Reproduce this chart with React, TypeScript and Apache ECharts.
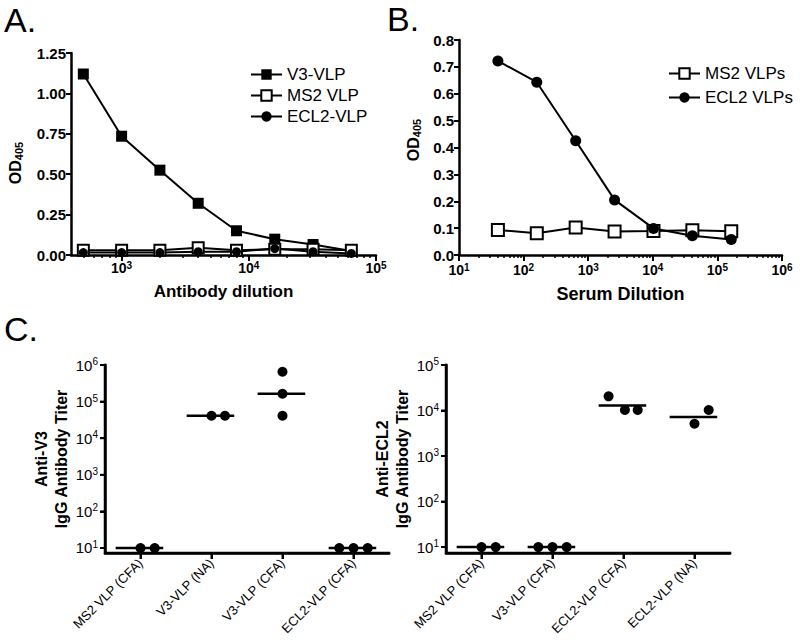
import React, { useEffect, useRef } from 'react';
import * as echarts from 'echarts';

// ---------- Panel A data ----------
const dilutionsA = [500, 1000, 2000, 4000, 8000, 16000, 32000, 64000];
const v3VlpA = [1.12, 0.735, 0.525, 0.32, 0.15, 0.098, 0.065, 0.025];
const ms2VlpA = [0.03, 0.03, 0.03, 0.045, 0.03, 0.035, 0.035, 0.03];
const ecl2VlpA = [0.015, 0.015, 0.015, 0.02, 0.02, 0.04, 0.02, 0.01];
const ticksA = [1e3, 1e4, 1e5];

// ---------- Panel B data ----------
const dilutionsB = [40, 160, 640, 2560, 10240, 40960, 163840];
const ms2VlpsB = [0.093, 0.081, 0.102, 0.087, 0.089, 0.092, 0.088];
const ecl2VlpsB = [0.722, 0.643, 0.425, 0.205, 0.099, 0.072, 0.058];
const ticksB = [1e1, 1e2, 1e3, 1e4, 1e5, 1e6];

// ---------- Panel C data ----------
const antiV3Groups = ['MS2 VLP (CFA)', 'V3-VLP (NA)', 'V3-VLP (CFA)', 'ECL2-VLP (CFA)'];
const antiV3Titers = [[10, 10], [40960, 40960], [655360, 163840, 40960], [10, 10, 10]];
const antiV3GeoMeans = [10, 40960, 163840, 10];
const ticksCLeft = [1e1, 1e2, 1e3, 1e4, 1e5, 1e6];

const antiEcl2Groups = ['MS2 VLP (CFA)', 'V3-VLP (CFA)', 'ECL2-VLP (CFA)', 'ECL2-VLP (NA)'];
const antiEcl2Titers = [[10, 10], [10, 10, 10], [20480, 10240, 10240], [5120, 10240]];
const antiEcl2GeoMeans = [10, 10, 12902, 7241];
const ticksCRight = [1e1, 1e2, 1e3, 1e4, 1e5];

// ---------- layout (horizontal spread of dots inside a column) ----------
const SPREAD_LEFT = [[0, 0.2], [0, 0.19], [0, 0, 0], [-0.2, 0, 0.2]];
const SPREAD_RIGHT = [[0, 0.2], [-0.2, 0, 0.2], [-0.21, 0.02, 0.2], [0, 0.2]];

const FONT = 'Liberation Sans, Arial, Helvetica, sans-serif';
const BLACK = '#000';

function minorTicks(lo: number, hi: number) {
  const out: number[] = [];
  for (let e = Math.floor(Math.log10(lo)); e < Math.ceil(Math.log10(hi)); e++) {
    for (let m = 2; m <= 9; m++) {
      const v = m * Math.pow(10, e);
      if (v > lo && v < hi) out.push(v);
    }
  }
  return out;
}

function powLabel(v: number) {
  const l = Math.log10(v);
  const e = Math.round(l);
  if (Math.abs(l - e) > 1e-6) return '';
  return `{b|10}{s|${e}}`;
}

function richPow(size: number, supSize: number, bold: boolean) {
  return {
    b: { fontSize: size, fontWeight: bold ? 'bold' : 'normal', fontFamily: FONT, color: BLACK, lineHeight: size + 2 },
    s: { fontSize: supSize, fontWeight: bold ? 'bold' : 'normal', fontFamily: FONT, color: BLACK, lineHeight: supSize, verticalAlign: 'top' },
  };
}

const mkLine = () => ({ show: true, onZero: false, lineStyle: { color: BLACK, width: 2.5, opacity: 1 } });
const mkTick = (length: number) => ({ show: true, inside: false, length, lineStyle: { color: BLACK, width: 2, opacity: 1 } });

function logXMajor(grid: number, min: number, max: number, ticks: number[], name: string, nameGap: number, titleSize: number, margin: number) {
  return {
    gridIndex: grid, type: 'log', logBase: 10, min, max, position: 'bottom',
    axisLine: mkLine(),
    axisTick: { ...mkTick(6), customValues: ticks },
    axisLabel: { customValues: ticks, formatter: powLabel, rich: richPow(14, 10, true), margin },
    splitLine: { show: false },
    minorTick: { show: false },
    name, nameLocation: 'middle', nameGap,
    nameTextStyle: { fontSize: titleSize, fontWeight: 'bold', fontFamily: FONT, color: BLACK },
  };
}

function logXMinor(grid: number, min: number, max: number) {
  return {
    gridIndex: grid, type: 'log', logBase: 10, min, max, position: 'bottom',
    axisLine: { show: false, onZero: false },
    axisTick: { show: true, length: 3, lineStyle: { color: BLACK, width: 1.5 }, customValues: minorTicks(min, max) },
    axisLabel: { show: false },
    splitLine: { show: false },
  };
}

function groupX(grid: number, cats: string[]) {
  const idx = cats.map((_c, i) => i);
  return {
    gridIndex: grid, type: 'value', min: -0.5, max: cats.length - 0.5, position: 'bottom',
    axisLine: mkLine(),
    axisTick: { ...mkTick(6), customValues: idx },
    axisLabel: {
      customValues: idx,
      formatter: (v: number) => cats[Math.round(v)] ?? '',
      rotate: 45, fontSize: 13, fontFamily: FONT, color: BLACK, margin: 8,
    },
    splitLine: { show: false },
  };
}

function odY(grid: number, max: number, interval: number, digits: number, nameGap: number, padding: number[]) {
  return {
    gridIndex: grid, type: 'value', min: 0, max, interval,
    axisLine: mkLine(),
    axisTick: mkTick(5),
    axisLabel: { formatter: (v: number) => v.toFixed(digits), fontSize: 15, fontWeight: 'bold', fontFamily: FONT, color: BLACK, margin: 5 },
    splitLine: { show: false },
    name: '{b|OD}{sub|405}', nameLocation: 'middle', nameGap,
    nameTextStyle: {
      padding,
      rich: {
        b: { fontSize: 16, fontWeight: 'bold', fontFamily: FONT, color: BLACK, lineHeight: 18 },
        sub: { fontSize: 11, fontWeight: 'bold', fontFamily: FONT, color: BLACK, lineHeight: 11, verticalAlign: 'bottom' },
      },
    },
  };
}

function titerY(grid: number, min: number, max: number, ticks: number[], name: string) {
  return {
    gridIndex: grid, type: 'log', logBase: 10, min, max,
    axisLine: mkLine(),
    axisTick: { ...mkTick(5), customValues: ticks },
    axisLabel: { customValues: ticks, formatter: powLabel, rich: richPow(15, 10, false), margin: 7 },
    splitLine: { show: false },
    name, nameLocation: 'middle', nameGap: 26,
    nameTextStyle: { fontSize: 16, fontWeight: 'bold', fontFamily: FONT, color: BLACK, lineHeight: 20 },
  };
}

function curve(name: string, xs: number[], ys: number[], xi: number, yi: number, symbol: string, size: number, open: boolean) {
  return {
    name, type: 'line', xAxisIndex: xi, yAxisIndex: yi,
    data: xs.map((x, i) => [x, ys[i]]),
    symbol, symbolSize: size, showAllSymbol: true,
    lineStyle: { color: BLACK, width: 2 },
    itemStyle: open ? { color: '#fff', borderColor: BLACK, borderWidth: 2, opacity: 1 } : { color: BLACK, borderColor: BLACK, borderWidth: 0, opacity: 1 },
    emphasis: { disabled: true },
  };
}

function dots(name: string, titers: number[][], spread: number[][], xi: number, yi: number) {
  const data: number[][] = [];
  titers.forEach((vals, g) => vals.forEach((v, k) => data.push([g + spread[g][k], v])));
  return {
    name, type: 'scatter', xAxisIndex: xi, yAxisIndex: yi, data,
    symbol: 'circle', symbolSize: 10, itemStyle: { color: BLACK, opacity: 1 }, z: 4,
    emphasis: { disabled: true },
  };
}

function meanLines(name: string, means: number[], xi: number, yi: number) {
  const data: any[] = [];
  means.forEach((m, g) => {
    data.push([g - 0.35, m], [g + 0.32, m], [g + 0.4, '-']);
  });
  return {
    name, type: 'line', xAxisIndex: xi, yAxisIndex: yi, data,
    symbol: 'none', connectNulls: false, clip: false,
    lineStyle: { color: BLACK, width: 2.5 }, z: 3,
    emphasis: { disabled: true },
  };
}

// axis lines of a titer panel drawn as a line series along the axes' extents
function frameLines(name: string, xi: number, yi: number, nCats: number, yMin: number, yMax: number) {
  return {
    name, type: 'line', xAxisIndex: xi, yAxisIndex: yi,
    data: [[-0.5, yMax], [-0.5, yMin], [nCats - 0.5, yMin]],
    symbol: 'none', clip: false, silent: true,
    lineStyle: { color: BLACK, width: 2.5, cap: 'square', join: 'miter' }, z: 6,
    emphasis: { disabled: true },
  };
}

// tick marks of a titer panel: kind 0 = group tick (below x axis), kind 1 = titer tick (left of y axis)
function frameTicks(name: string, xi: number, yi: number, nCats: number, yMin: number, yTicks: number[]) {
  const data: number[][] = [];
  for (let i = 0; i < nCats; i++) data.push([i, yMin, 0]);
  yTicks.forEach((t) => data.push([-0.5, t, 1]));
  return {
    name, type: 'custom', xAxisIndex: xi, yAxisIndex: yi, data, silent: true, z: 6,
    renderItem: (_p: any, api: any) => {
      const p = api.coord([api.value(0), api.value(1)]);
      if (api.value(2) === 0) {
        return { type: 'line', shape: { x1: p[0], y1: p[1], x2: p[0], y2: p[1] + 6 }, style: { stroke: BLACK, lineWidth: 2 } };
      }
      return { type: 'line', shape: { x1: p[0] - 5, y1: p[1], x2: p[0], y2: p[1] }, style: { stroke: BLACK, lineWidth: 2 } };
    },
  };
}

function panelLabel(text: string, x: number, y: number) {
  return { type: 'text', x, y, style: { text, fontSize: 34, fontFamily: FONT, fill: BLACK } };
}

export default function App() {
  const ref = useRef<HTMLDivElement>(null);
  useEffect(() => {
    if (!ref.current) return;
    const chart = echarts.init(ref.current, undefined, { renderer: 'svg' });
    const legendText = { fontSize: 17, fontFamily: FONT, color: BLACK };
    chart.setOption({
      animation: false,
      backgroundColor: '#fff',
      grid: [
        { left: 71, top: 53, width: 305, height: 202, containLabel: false, outerBoundsMode: 'none' },
        { left: 459, top: 40, width: 323, height: 215, containLabel: false, outerBoundsMode: 'none' },
        { left: 105, top: 365, width: 284, height: 188, containLabel: false, outerBoundsMode: 'none' },
        { left: 446, top: 365, width: 284, height: 188, containLabel: false, outerBoundsMode: 'none' },
      ],
      xAxis: [
        logXMajor(0, 400, 1e5, ticksA, 'Antibody dilution', 28, 17, 5),
        logXMinor(0, 400, 1e5),
        logXMajor(1, 10, 1e6, ticksB, 'Serum Dilution', 30, 18, 7),
        logXMinor(1, 10, 1e6),
        groupX(2, antiV3Groups),
        groupX(3, antiEcl2Groups),
      ],
      yAxis: [
        odY(0, 1.25, 0.25, 2, 47, [0, 18, 0, 0]),
        odY(1, 0.8, 0.1, 1, 37, [0, 0, 0, 15]),
        titerY(2, 7.3, 1e6, ticksCLeft, 'Anti-V3\nIgG Antibody Titer'),
        titerY(3, 7.4, 1e5, ticksCRight, 'Anti-ECL2\nIgG Antibody Titer'),
      ],
      legend: [
        {
          data: ['V3-VLP', 'MS2 VLP', 'ECL2-VLP'], orient: 'vertical', left: 245, top: 61,
          itemWidth: 31, itemHeight: 13, itemGap: 4, textStyle: legendText, selectedMode: false,
        },
        {
          data: ['MS2 VLPs', 'ECL2 VLPs'], orient: 'vertical', left: 663, top: 60,
          itemWidth: 31, itemHeight: 13, itemGap: 7, textStyle: legendText, selectedMode: false,
        },
      ],
      graphic: [panelLabel('A.', 4, 3), panelLabel('B.', 387, 2), panelLabel('C.', 4, 312)],
      series: [
        curve('V3-VLP', dilutionsA, v3VlpA, 0, 0, 'rect', 11, false),
        curve('MS2 VLP', dilutionsA, ms2VlpA, 0, 0, 'rect', 11, true),
        curve('ECL2-VLP', dilutionsA, ecl2VlpA, 0, 0, 'circle', 9, false),
        curve('MS2 VLPs', dilutionsB, ms2VlpsB, 2, 1, 'rect', 12, true),
        curve('ECL2 VLPs', dilutionsB, ecl2VlpsB, 2, 1, 'circle', 11, false),
        meanLines('Anti-V3 mean', antiV3GeoMeans, 4, 2),
        dots('Anti-V3 titer', antiV3Titers, SPREAD_LEFT, 4, 2),
        frameLines('Anti-V3 axes', 4, 2, antiV3Groups.length, 7.3, 1e6),
        frameTicks('Anti-V3 ticks', 4, 2, antiV3Groups.length, 7.3, ticksCLeft),
        meanLines('Anti-ECL2 mean', antiEcl2GeoMeans, 5, 3),
        dots('Anti-ECL2 titer', antiEcl2Titers, SPREAD_RIGHT, 5, 3),
        frameLines('Anti-ECL2 axes', 5, 3, antiEcl2Groups.length, 7.4, 1e5),
        frameTicks('Anti-ECL2 ticks', 5, 3, antiEcl2Groups.length, 7.4, ticksCRight),
      ],
    });
    return () => chart.dispose();
  }, []);
  return <div ref={ref} style={{ position: 'fixed', left: 0, top: 0, width: 800, height: 641, background: '#fff' }} />;
}
